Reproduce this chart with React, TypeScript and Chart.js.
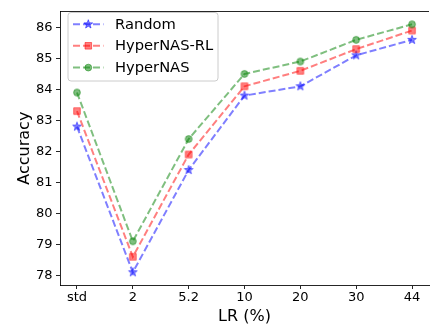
import React, { useEffect, useRef } from "react";
import { Chart, registerables } from "chart.js";
Chart.register(...registerables);

const categories = ["std", "2", "5.2", "10", "20", "30", "44"];
const randomAcc = [82.8, 78.1, 81.4, 83.8, 84.1, 85.1, 85.6];
const hyperNasRlAcc = [83.3, 78.6, 81.9, 84.1, 84.6, 85.3, 85.9];
const hyperNasAcc = [83.9, 79.1, 82.4, 84.5, 84.9, 85.6, 86.1];
const yTicks = [78, 79, 80, 81, 82, 83, 84, 85, 86];
const seriesNames = ["Random", "HyperNAS-RL", "HyperNAS"];
const seriesColors = ["rgba(0,0,255,0.5)", "rgba(255,0,0,0.5)", "rgba(0,128,0,0.5)"];
const seriesMarkers = ["star", "square", "circle"];

const FONT = "'DejaVu Sans', sans-serif";

function drawMarker(ctx: CanvasRenderingContext2D, type: string, x: number, y: number, color: string) {
  ctx.save();
  ctx.fillStyle = color;
  ctx.strokeStyle = color;
  ctx.lineWidth = 1;
  ctx.beginPath();
  if (type === "star") {
    const R = 4.6, r = 1.9;
    for (let i = 0; i < 10; i++) {
      const rad = i % 2 === 0 ? R : r;
      const a = -Math.PI / 2 + (i * Math.PI) / 5;
      const px = x + rad * Math.cos(a), py = y + rad * Math.sin(a);
      if (i === 0) ctx.moveTo(px, py); else ctx.lineTo(px, py);
    }
    ctx.closePath();
  } else if (type === "square") {
    ctx.rect(x - 3.3, y - 3.3, 6.6, 6.6);
  } else {
    ctx.arc(x, y, 3.4, 0, Math.PI * 2);
  }
  ctx.fill();
  ctx.stroke();
  ctx.restore();
}

function makeMarkerCanvas(type: string, color: string) {
  const c = document.createElement("canvas");
  c.width = 12; c.height = 12;
  const ctx = c.getContext("2d")!;
  drawMarker(ctx, type, 6, 6, color);
  return c;
}

const legendPlugin = {
  id: "customLegend",
  afterDatasetsDraw(chart: any) {
    const ctx: CanvasRenderingContext2D = chart.ctx;
    ctx.save();
    const x0 = 68, y0 = 12.5, w = 150, h = 68.5, rr = 3;
    ctx.beginPath();
    ctx.moveTo(x0 + rr, y0);
    ctx.lineTo(x0 + w - rr, y0);
    ctx.arcTo(x0 + w, y0, x0 + w, y0 + rr, rr);
    ctx.lineTo(x0 + w, y0 + h - rr);
    ctx.arcTo(x0 + w, y0 + h, x0 + w - rr, y0 + h, rr);
    ctx.lineTo(x0 + rr, y0 + h);
    ctx.arcTo(x0, y0 + h, x0, y0 + h - rr, rr);
    ctx.lineTo(x0, y0 + rr);
    ctx.arcTo(x0, y0, x0 + rr, y0, rr);
    ctx.closePath();
    ctx.fillStyle = "rgba(255,255,255,0.8)";
    ctx.fill();
    ctx.strokeStyle = "#cccccc";
    ctx.lineWidth = 1;
    ctx.stroke();
    const rows = [24.3, 45.8, 67.6];
    seriesNames.forEach((name, i) => {
      const y = rows[i];
      ctx.save();
      ctx.strokeStyle = seriesColors[i];
      ctx.lineWidth = 2;
      ctx.setLineDash([7, 3]);
      ctx.beginPath();
      ctx.moveTo(73, y);
      ctx.lineTo(103.5, y);
      ctx.stroke();
      ctx.restore();
      drawMarker(ctx, seriesMarkers[i], 88.3, y, seriesColors[i]);
      ctx.fillStyle = "#000";
      ctx.font = `14.7px ${FONT}`;
      ctx.textBaseline = "middle";
      ctx.textAlign = "left";
      ctx.fillText(name, 115, y + 0.5);
    });
    ctx.restore();
  },
  afterDraw(chart: any) {
    const ctx: CanvasRenderingContext2D = chart.ctx;
    const a = chart.chartArea;
    ctx.save();
    ctx.strokeStyle = "rgba(0,0,0,0.85)";
    ctx.lineWidth = 1;
    ctx.beginPath();
    ctx.moveTo(a.left, Math.round(a.top) + 0.5);
    ctx.lineTo(a.right, Math.round(a.top) + 0.5);
    ctx.stroke();
    ctx.restore();
  },
};

export default function App() {
  const ref = useRef<HTMLCanvasElement | null>(null);
  useEffect(() => {
    if (!ref.current) return;
    const seriesData = [randomAcc, hyperNasRlAcc, hyperNasAcc];
    const chart = new Chart(ref.current, {
      type: "line",
      data: {
        datasets: seriesData.map((vals, i) => ({
          label: seriesNames[i],
          data: vals.map((v, j) => ({ x: j, y: v })),
          borderColor: seriesColors[i],
          backgroundColor: seriesColors[i],
          borderWidth: 2,
          borderDash: [7, 3],
          pointStyle: makeMarkerCanvas(seriesMarkers[i], seriesColors[i]) as any,
          pointRadius: 5,
          tension: 0,
          fill: false,
          order: 3 - i,
        })),
      },
      options: {
        responsive: false,
        animation: false,
        devicePixelRatio: 1,
        layout: { padding: { left: 0, top: 4, right: 0, bottom: 0 } },
        plugins: { legend: { display: false }, tooltip: { enabled: false } },
        scales: {
          x: {
            type: "linear",
            min: -0.304,
            max: 6.304,
            afterBuildTicks: (scale: any) => {
              scale.ticks = categories.map((_, i) => ({ value: i }));
            },
            afterFit: (scale: any) => { scale.height = 42; },
            ticks: {
              callback: (v: any) => categories[v] ?? "",
              font: { family: FONT, size: 13 },
              color: "#000",
              padding: 1,
              maxRotation: 0,
              autoSkip: false,
            },
            grid: { drawOnChartArea: false, drawTicks: true, tickLength: 4, color: "rgba(0,0,0,0.85)" },
            border: { display: true, color: "rgba(0,0,0,0.85)", width: 1 },
            title: { display: true, text: "LR (%)", font: { family: FONT, size: 16 }, color: "#000", padding: { top: 4, bottom: 1 } },
          },
          y: {
            type: "linear",
            min: 77.69,
            max: 86.52,
            afterBuildTicks: (scale: any) => {
              scale.ticks = yTicks.map((v) => ({ value: v }));
            },
            afterFit: (scale: any) => { scale.width = 60; },
            ticks: {
              font: { family: FONT, size: 13 },
              color: "#000",
              padding: 3.5,
            },
            grid: { drawOnChartArea: false, drawTicks: true, tickLength: 4, color: "rgba(0,0,0,0.85)" },
            border: { display: true, color: "rgba(0,0,0,0.85)", width: 1 },
            title: { display: true, text: "Accuracy", font: { family: FONT, size: 16 }, color: "#000", padding: { top: 15, bottom: 0 } },
          },
        },
      },
      plugins: [legendPlugin],
    });
    return () => chart.destroy();
  }, []);
  return (
    <div style={{ position: "fixed", left: 0, top: 0, width: 430, height: 327, overflow: "hidden", background: "#fff" }}>
      <canvas ref={ref} width={436} height={327} style={{ display: "block", width: 436, height: 327 }} />
    </div>
  );
}
